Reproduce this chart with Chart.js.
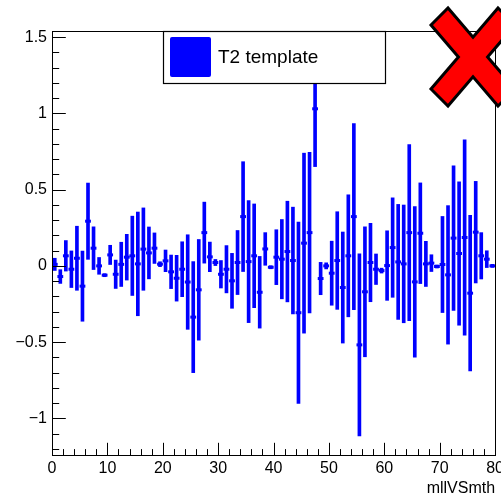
<!DOCTYPE html>
<html>
<head>
<meta charset="utf-8">
<script src="https://cdn.jsdelivr.net/npm/chart.js@4"></script>
<style>
  html, body { margin: 0; padding: 0; background: #ffffff; }
  canvas { display: block; }
</style>
</head>
<body>
<canvas id="c" width="501" height="494"></canvas>
<script>
// ---- data ----
const binCenters = [0.5,1.5,2.5,3.5,4.5,5.5,6.5,7.5,8.5,9.5,10.5,11.5,12.5,13.5,14.5,15.5,16.5,17.5,18.5,19.5,
  20.5,21.5,22.5,23.5,24.5,25.5,26.5,27.5,28.5,29.5,30.5,31.5,32.5,33.5,34.5,35.5,36.5,37.5,38.5,39.5,
  40.5,41.5,42.5,43.5,44.5,45.5,46.5,47.5,48.5,49.5,50.5,51.5,52.5,53.5,54.5,55.5,56.5,57.5,58.5,59.5,
  60.5,61.5,62.5,63.5,64.5,65.5,66.5,67.5,68.5,69.5,70.5,71.5,72.5,73.5,74.5,75.5,76.5,77.5,78.5,79.5];
const binValues = [0.01,-0.07,0.066,-0.022,0.05,-0.133,0.293,0.116,0.0,-0.061,
  0.072,-0.055,0.01,0.057,0.066,0.013,0.11,0.085,0.116,0.011,
  0.033,-0.039,-0.081,-0.022,-0.106,-0.336,-0.157,0.218,0.059,0.022,
  -0.055,-0.022,-0.098,0.022,0.323,0.028,0.066,-0.173,0.111,-0.009,
  0.057,0.044,0.094,0.035,-0.307,0.149,0.218,1.03,-0.083,0.0,
  -0.048,0.035,-0.142,0.066,0.323,-0.518,-0.17,0.022,-0.022,-0.031,
  0.002,0.12,0.026,0.013,0.218,-0.105,0.214,0.013,0.018,-0.004,
  0.009,-0.059,0.182,0.081,0.186,-0.179,0.221,0.066,0.044,0.0];
const binErrors = [0.04,0.045,0.10,0.12,0.21,0.23,0.25,0.14,0.055,0.01,
  0.063,0.093,0.145,0.15,0.26,0.34,0.27,0.17,0.10,0.016,
  0.071,0.11,0.15,0.18,0.31,0.364,0.33,0.20,0.097,0.02,
  0.09,0.155,0.18,0.21,0.36,0.40,0.34,0.235,0.107,0.01,
  0.18,0.26,0.33,0.35,0.594,0.59,0.526,0.379,0.106,0.02,
  0.21,0.32,0.364,0.40,0.61,0.597,0.426,0.257,0.10,0.016,
  0.228,0.326,0.377,0.386,0.578,0.493,0.33,0.148,0.055,0.01,
  0.315,0.454,0.474,0.47,0.64,0.51,0.333,0.152,0.055,0.01];
const seriesName = 'T2 template';
const xTickValues = [0,10,20,30,40,50,60,70,80];
const xTickLabels = ['0','10','20','30','40','50','60','70','80'];
const yTickValues = [-1,-0.5,0,0.5,1,1.5];
const yTickLabels = ['\u22121','\u22120.5','0','0.5','1','1.5'];
const xTitle = 'mllVSmth';

const FONT = "'Liberation Sans', Arial, Helvetica, sans-serif";
const BLUE = '#0000ff';

function line(ctx, x1, y1, x2, y2) {
  ctx.beginPath();
  ctx.moveTo(x1, y1);
  ctx.lineTo(x2, y2);
  ctx.stroke();
}

// ---- frame, ROOT-style inner ticks, legend box, red cross ----
const rootDecor = {
  id: 'rootDecor',
  afterDraw(chart) {
    const ctx = chart.ctx, a = chart.chartArea;
    const xs = chart.scales.x, ys = chart.scales.y;
    ctx.save();
    ctx.strokeStyle = '#000000';
    ctx.lineWidth = 1;
    ctx.strokeRect(Math.round(a.left) + 0.5, Math.round(a.top) + 0.5,
                   Math.round(a.right - a.left), Math.round(a.bottom - a.top));
    const bottom = Math.round(a.bottom) + 0.5;
    const left = Math.round(a.left) + 0.5;
    // x ticks: major every 10, minor every 2
    for (let v = 0; v <= 80; v += 2) {
      const px = Math.round(xs.getPixelForValue(v)) + 0.5;
      const len = (v % 10 === 0) ? 12.7 : 6.4;
      line(ctx, px, bottom, px, bottom - len);
    }
    // y ticks: major every 0.5, minor every 0.1
    for (let k = -12; k <= 15; k++) {
      const py = Math.round(ys.getPixelForValue(k / 10)) + 0.5;
      const len = (k % 5 === 0) ? 13.3 : 6.7;
      line(ctx, left, py, left + len, py);
    }

    // legend
    ctx.fillStyle = '#fff';
    ctx.fillRect(163, 31, 223, 53);
    ctx.strokeStyle = '#000';
    ctx.lineWidth = 1.2;
    ctx.strokeRect(163.5, 31.5, 222, 52);
    ctx.fillStyle = BLUE;
    ctx.beginPath();
    ctx.roundRect(170, 37, 41, 40, 2);
    ctx.fill();
    ctx.fillStyle = '#000';
    ctx.font = '19px ' + FONT;
    ctx.textBaseline = 'middle';
    ctx.textAlign = 'left';
    ctx.fillText(chart.data.datasets[0].label, 218, 57.5);

    // red cross
    const cx = 473, cy = 57, W = 42, H = 49, t = 17;
    const nx = W * t / H, ny = H * t / W;
    const pts = [
      [-W, -H + t], [-W + t, -H], [0, -ny], [W - t, -H], [W, -H + t], [nx, 0],
      [W, H - t], [W - t, H], [0, ny], [-W + t, H], [-W, H - t], [-nx, 0]
    ];
    ctx.beginPath();
    pts.forEach((p, i) => { if (i === 0) ctx.moveTo(cx + p[0], cy + p[1]); else ctx.lineTo(cx + p[0], cy + p[1]); });
    ctx.closePath();
    ctx.fillStyle = '#ff0000';
    ctx.fill();
    ctx.lineWidth = 3;
    ctx.lineJoin = 'miter';
    ctx.strokeStyle = '#000';
    ctx.stroke();
    ctx.restore();
  }
};

new Chart(document.getElementById('c'), {
  type: 'bar',
  data: {
    datasets: [
      {
        type: 'bar',
        label: seriesName,
        data: binCenters.map((x, i) => ({ x: x, y: [binValues[i] - binErrors[i], binValues[i] + binErrors[i]] })),
        backgroundColor: BLUE,
        borderWidth: 0,
        barThickness: 3,
        grouped: false,
        order: 2
      },
      {
        type: 'scatter',
        label: seriesName + ' values',
        data: binCenters.map((x, i) => ({ x: x, y: binValues[i] })),
        pointStyle: 'line',
        radius: 2.9,
        hoverRadius: 2.9,
        borderColor: BLUE,
        backgroundColor: BLUE,
        borderWidth: 3,
        order: 1
      }
    ]
  },
  plugins: [rootDecor],
  options: {
    responsive: false,
    animation: false,
    events: [],
    layout: { padding: { top: 31, right: 5, left: 0, bottom: 0 } },
    plugins: { legend: { display: false }, tooltip: { enabled: false } },
    scales: {
      x: {
        type: 'linear',
        offset: false,
        min: 0, max: 80,
        afterBuildTicks: s => { s.ticks = xTickValues.map(v => ({ value: v })); },
        afterFit: s => { s.height = 39; s.paddingLeft = 0; s.paddingRight = 0; },
        grid: { display: false, drawTicks: false, offset: false },
        border: { display: false },
        ticks: {
          autoSkip: false, maxRotation: 0, padding: 4, color: '#000',
          font: { family: FONT, size: 16 },
          callback: (v) => { const i = xTickValues.indexOf(v); return i >= 0 ? xTickLabels[i] : ''; }
        },
        title: {
          display: true, text: xTitle, align: 'end', color: '#000',
          font: { family: FONT, size: 16 }, padding: { top: 0, bottom: -4 }
        }
      },
      y: {
        type: 'linear',
        min: -1.24, max: 1.54,
        afterBuildTicks: s => { s.ticks = yTickValues.map(v => ({ value: v })); },
        afterFit: s => { s.width = 52; s.paddingTop = 0; s.paddingBottom = 0; },
        grid: { display: false, drawTicks: false },
        border: { display: false },
        ticks: {
          autoSkip: false, padding: 5, color: '#000',
          font: { family: FONT, size: 16 },
          callback: (v) => { const i = yTickValues.indexOf(v); return i >= 0 ? yTickLabels[i] : ''; }
        }
      }
    }
  }
});
</script>
</body>
</html>
